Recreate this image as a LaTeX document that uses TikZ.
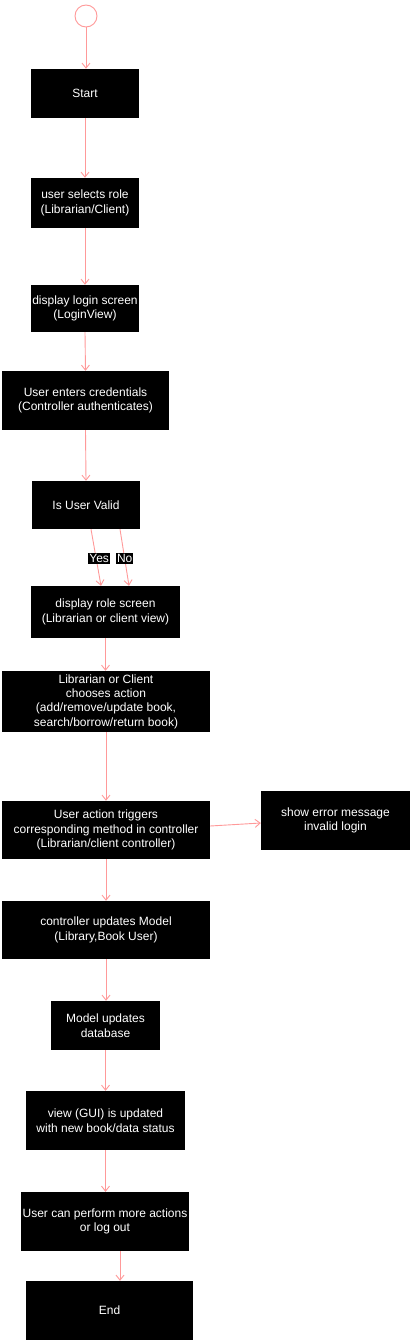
\documentclass[tikz,border=0pt]{standalone}
\usepackage{fontspec}
\setmainfont{Liberation Sans}
\usetikzlibrary{arrows.meta}
\definecolor{arr}{HTML}{FF9999}
\begin{document}
\begin{tikzpicture}[x=1pt,y=-1pt,
  box/.style={draw=none,fill=black,text=white,inner sep=0pt,align=center,
    font=\fontsize{12}{14.4}\selectfont},
  lab/.style={fill=black,text=white,inner sep=1pt,font=\fontsize{12}{14}\selectfont},
  flow/.style={draw=arr,line width=0.9pt,-{Straight Barb[length=5pt,width=8pt,line width=0.9pt]}}]
\useasboundingbox[fill=white] (0,0) rectangle (412,1341);

\node[circle,draw=arr,line width=0.9pt,minimum size=22pt,inner sep=0pt] (init) at (86,16) {};
\node[box,minimum width=108pt,minimum height=49pt] (start) at (85,93.5) {Start};
\node[box,minimum width=108pt,minimum height=50pt] (role) at (85,203) {user selects role\\(Librarian/Client)};
\node[box,minimum width=108pt,minimum height=47pt] (login) at (85,308.5) {display login screen\\(LoginView)};
\node[box,minimum width=167pt,minimum height=59pt] (cred) at (85.5,400.5) {User enters credentials\\(Controller authenticates)};
\node[box,minimum width=108pt,minimum height=48pt] (valid) at (86,505) {Is User Valid};
\node[box,minimum width=149pt,minimum height=52pt] (rscreen) at (105.5,612) {display role screen\\(Librarian or client view)};
\node[box,minimum width=208pt,minimum height=61pt] (action) at (106,701.5) {Librarian or Client\\chooses action\\(add/remove/update book,\\search/borrow/return book)};
\node[box,minimum width=208pt,minimum height=58pt] (trigger) at (106,830) {User action triggers\\corresponding method in controller\\(Librarian/client controller)};
\node[box,minimum width=149pt,minimum height=59pt] (error) at (335.5,820.5) {show error message\\invalid login};
\node[box,minimum width=208pt,minimum height=58pt] (cupd) at (106,930) {controller updates Model\\(Library,Book User)};
\node[box,minimum width=109pt,minimum height=49pt] (model) at (105.5,1025.5) {Model updates\\database};
\node[box,minimum width=159pt,minimum height=59pt] (view) at (105.5,1120.5) {view (GUI) is updated\\with new book/data status};
\node[box,minimum width=168pt,minimum height=59pt] (more) at (105,1221.5) {User can perform more actions\\or log out};
\node[box,minimum width=167pt,minimum height=59pt] (end) at (109.5,1310.5) {End};

\draw[flow] (init) -- (init |- start.north);
\draw[flow] (start) -- (role);
\draw[flow] (role) -- (login);
\draw[flow] (login.south) -- (cred.north);
\draw[flow] (cred.south) -- (valid.north);
\draw[flow] ([xshift=5pt]valid.south) -- node[lab,pos=0.52,xshift=3pt] (yes) {Yes} ([xshift=-4.5pt]rscreen.north);
\draw[flow] ([xshift=34pt]valid.south) -- node[lab,pos=0.52] (no) {No} ([xshift=23.5pt]rscreen.north);
\draw[flow] (rscreen.south) -- (rscreen.south |- action.north);
\draw[flow] (action) -- (trigger);
\draw[flow] ([yshift=4pt]trigger.east) -- ([yshift=-2.5pt]error.west);
\draw[flow] (trigger) -- (cupd);
\draw[flow] (cupd) -- (cupd.south |- model.north);
\draw[flow] (model.south) -- (model.south |- view.north);
\draw[flow] (view.south) -- (view.south |- more.north);
\draw[flow] ([xshift=15pt]more.south) -- ([xshift=15pt]more.south |- end.north);
\end{tikzpicture}
\end{document}
